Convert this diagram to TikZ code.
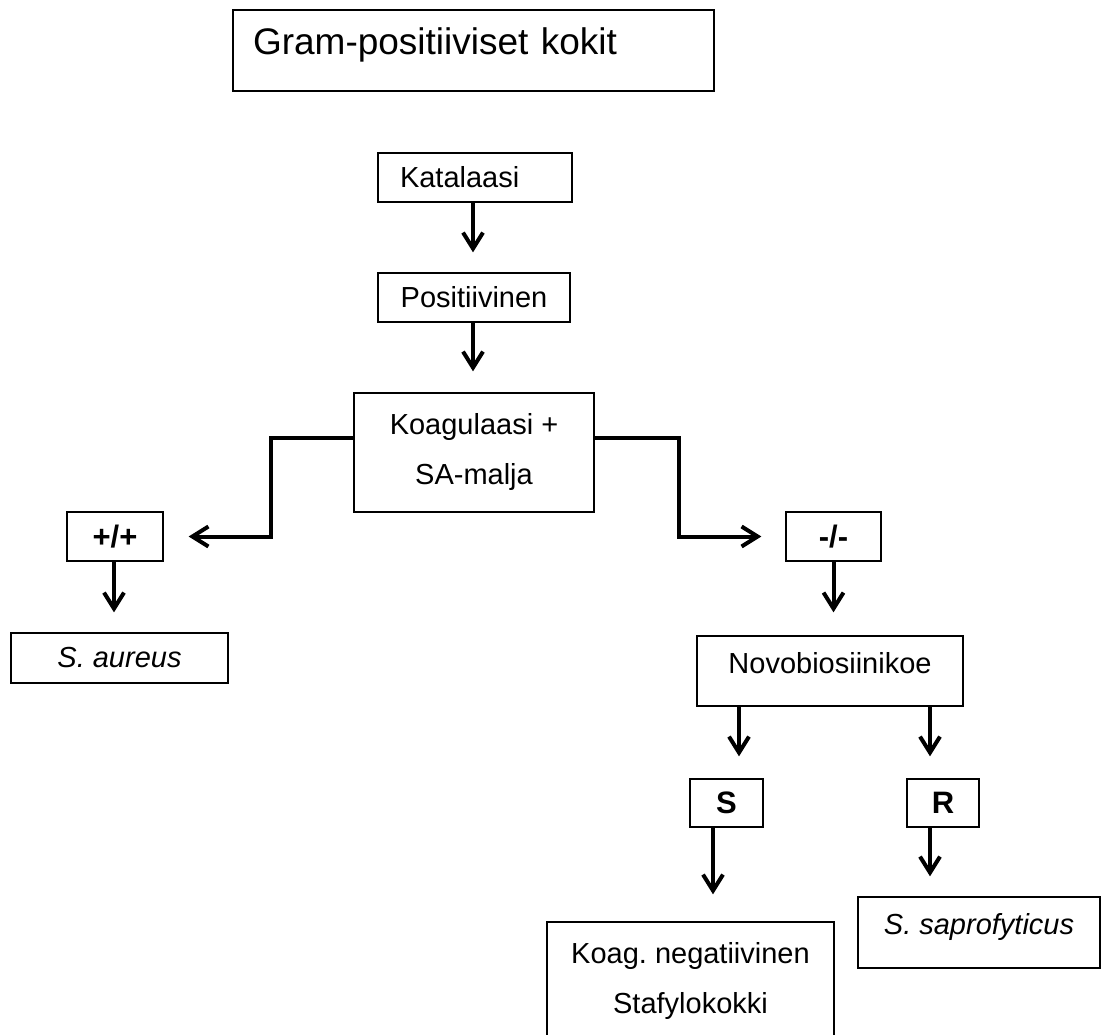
\documentclass[tikz,border=0pt]{standalone}
\usepackage{fontspec}
\setmainfont{Liberation Sans}
\usetikzlibrary{arrows.meta}
\frenchspacing

\tikzset{
  box/.style={draw, line width=1.3pt, inner sep=0pt, align=center, font=\fontsize{29}{50}\selectfont},
  res/.style={box, font=\fontsize{31}{36}\selectfont\bfseries},
  arr/.style={line width=4pt, -{Straight Barb[length=16pt,width=20pt]}}
}

\begin{document}
\begin{tikzpicture}[x=1pt,y=-1pt]
\useasboundingbox (0,0) rectangle (1101,1035);
%Boxes
\node[box, minimum width=481pt, minimum height=81pt, text width=441pt, align=left, text height=45pt, text depth=36pt, font=\fontsize{37}{44}\selectfont] (gram) at (473.5,50.5) {Gram-positiiviset kokit};
\node[box, minimum width=194pt, minimum height=49pt, text width=150pt, align=left] (kat) at (475,177.5) {Katalaasi};
\node[box, minimum width=192pt, minimum height=49pt] (pos) at (474,297.5) {Positiivinen};
\node[box, minimum width=240pt, minimum height=119pt] (koag) at (474,452.5) {Koagulaasi +\\SA-malja};

\node[res, minimum width=96pt, minimum height=49pt] (pp) at (115,536.5) {+/+};
\node[box, minimum width=217pt, minimum height=50pt, font=\fontsize{29}{35}\selectfont\itshape] (aur) at (119.5,658) {S. aureus};

\node[res, minimum width=95pt, minimum height=49pt] (mm) at (833.5,536.5) {-/-};
\node[box, minimum width=266pt, minimum height=70pt, text depth=17pt] (novo) at (830,671) {Novobiosiinikoe};
\node[res, minimum width=73pt, minimum height=48pt] (s) at (726.5,803) {S};
\node[res, minimum width=72pt, minimum height=48pt] (r) at (943,803) {R};
\node[box, minimum width=287pt, minimum height=118pt] (cns) at (690.5,981) {Koag. negatiivinen\\Stafylokokki};
\node[box, minimum width=242pt, minimum height=71pt, text depth=18pt, font=\fontsize{29}{35}\selectfont\itshape] (sap) at (979,932.5) {S. saprofyticus};

%Arrows
\draw[arr, shorten >=20pt] ([xshift=-2pt]kat.south) -- ([xshift=-2pt]kat.south |- pos.north);
\draw[arr, shorten >=21pt] ([xshift=-1pt]pos.south) -- ([xshift=-1pt]pos.south |- koag.north);

\draw[arr, shorten >=25pt] ([yshift=14.5pt]koag.west) -- ++(-82,0) |- (pp.east);
\draw[arr, shorten >=24pt] ([yshift=14.5pt]koag.east) -- ++(84,0) |- (mm.west);

\draw[arr, shorten >=20pt] ([xshift=-1pt]pp.south) -- ([xshift=-1pt]pp.south |- aur.north);
\draw[arr, shorten >=23pt] (mm.south) -- (mm.south |- novo.north);

\draw[arr, shorten >=22pt] ([xshift=-91pt]novo.south) -- ([xshift=-91pt]novo.south |- s.north);
\draw[arr, shorten >=22pt] ([xshift=100pt]novo.south) -- ([xshift=100pt]novo.south |- r.north);
\draw[arr, shorten >=27pt] ([xshift=-13.5pt]s.south) -- ([xshift=-13.5pt]s.south |- cns.north);
\draw[arr, shorten >=20pt] ([xshift=-13pt]r.south) -- ([xshift=-13pt]r.south |- sap.north);

\end{tikzpicture}
\end{document}
